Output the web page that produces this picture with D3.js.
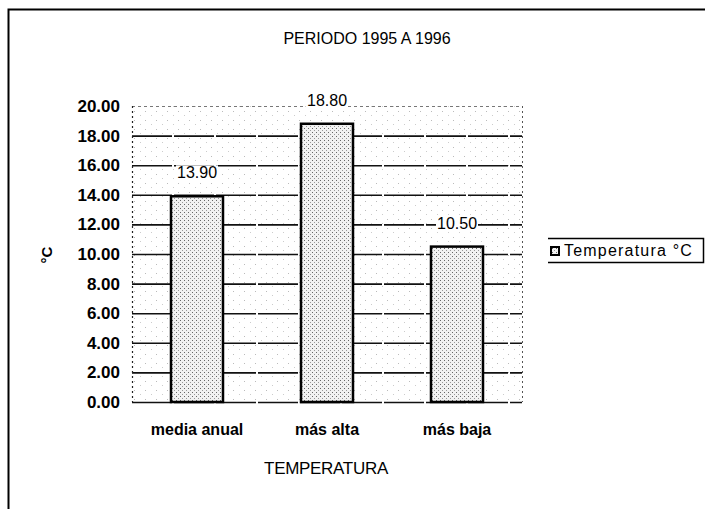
<!DOCTYPE html>
<html><head><meta charset="utf-8">
<script src="https://cdn.jsdelivr.net/npm/d3@7"></script>
<style>
body{margin:0;background:#fff;}
svg{display:block;font-family:"Liberation Sans",Arial,sans-serif;}
</style></head>
<body>
<svg id="c" width="705" height="509"></svg>
<script>
const categories = ["media anual", "más alta", "más baja"];
const values = [13.90, 18.80, 10.50];
const yTicks = [0, 2, 4, 6, 8, 10, 12, 14, 16, 18, 20];
const title = "PERIODO 1995 A 1996";
const xTitle = "TEMPERATURA";
const yTitle = "°C";
const seriesName = "Temperatura °C";

const svg = d3.select("#c");
const defs = svg.append("defs");
const pb = defs.append("pattern").attr("id","barPat").attr("width",4).attr("height",4).attr("patternUnits","userSpaceOnUse");
pb.append("rect").attr("width",4).attr("height",4).attr("fill","#f2f2f2");
pb.append("rect").attr("x",0).attr("y",0).attr("width",1).attr("height",1).attr("fill","#666");
pb.append("rect").attr("x",2).attr("y",2).attr("width",1).attr("height",1).attr("fill","#999");
const pg = defs.append("pattern").attr("id","bgPat").attr("width",11).attr("height",9).attr("patternUnits","userSpaceOnUse");
pg.append("rect").attr("width",11).attr("height",9).attr("fill","#fff");
pg.append("rect").attr("x",2).attr("y",3).attr("width",1).attr("height",1).attr("fill","#bbb");
pg.append("rect").attr("x",8).attr("y",7).attr("width",1).attr("height",1).attr("fill","#ccc");

// frame
svg.append("path").attr("d","M8.5,509 L8.5,9.5 L705,9.5").attr("fill","none").attr("stroke","#000").attr("stroke-width",2);

const x0 = 132, x1 = 522, yTop = 106, yBot = 402;
const x = d3.scaleBand().domain(categories).range([x0, x1]).paddingInner(0.6).paddingOuter(0.3);
const y = d3.scaleLinear().domain([0, 20]).range([yBot, yTop]);

svg.append("rect").attr("x",x0).attr("y",yTop).attr("width",x1-x0).attr("height",yBot-yTop).attr("fill","url(#bgPat)");

// gridlines
svg.append("g").selectAll("line").data(yTicks).join("line")
  .attr("x1",x0).attr("x2",x1)
  .attr("y1",d=>y(d)+0.5).attr("y2",d=>y(d)+0.5)
  .attr("stroke",d=> d===20 ? "#777" : "#111")
  .attr("stroke-width",d=> d===20 ? 1 : 1.6)
  .attr("stroke-dasharray",d=> d===20 ? "3,3" : "40,2");

// left axis & right edge dotted
svg.append("line").attr("x1",x0+0.5).attr("x2",x0+0.5).attr("y1",yTop).attr("y2",yBot).attr("stroke","#222").attr("stroke-dasharray","2,3").attr("stroke-width",1.2);
svg.append("line").attr("x1",x1+0.5).attr("x2",x1+0.5).attr("y1",yTop).attr("y2",yBot).attr("stroke","#555").attr("stroke-dasharray","2,3").attr("stroke-width",1);

// y axis labels
const yAxis = d3.axisLeft(y).tickValues(yTicks).tickFormat(d3.format(".2f")).tickSize(0).tickPadding(12);
const ga = svg.append("g").attr("transform",`translate(${x0},0)`).call(yAxis);
ga.select(".domain").remove();
ga.selectAll("text").attr("font-size",17).attr("font-weight","bold").attr("fill","#000").attr("font-family","'Liberation Sans',Arial,sans-serif");

// bars
svg.append("g").selectAll("rect").data(values).join("rect")
  .attr("x",(d,i)=>x(categories[i]))
  .attr("y",d=>y(d))
  .attr("width",x.bandwidth())
  .attr("height",d=>yBot-y(d))
  .attr("fill","url(#barPat)")
  .attr("stroke","#000").attr("stroke-width",2.5);

// value labels with white backing
const vl = svg.append("g").selectAll("g").data(values).join("g")
  .attr("transform",(d,i)=>`translate(${x(categories[i])+x.bandwidth()/2},${y(d)-18})`);
vl.append("rect").attr("x",-21).attr("y",-13).attr("width",42).attr("height",15).attr("fill","#fff");
vl.append("text").attr("text-anchor","middle").attr("font-size",16).attr("fill","#000")
  .text(d=>d3.format(".2f")(d));

// x axis labels
const xAxis = d3.axisBottom(x).tickSize(0).tickPadding(22);
const gx = svg.append("g").attr("transform",`translate(0,${yBot})`).call(xAxis);
gx.select(".domain").remove();
gx.selectAll("text").attr("font-size",16).attr("font-weight","bold").attr("fill","#000").attr("font-family","'Liberation Sans',Arial,sans-serif");

// titles
svg.append("text").attr("x",367).attr("y",44).attr("text-anchor","middle").attr("font-size",16).text(title);
svg.append("text").attr("x",326).attr("y",474).attr("text-anchor","middle").attr("font-size",17).attr("letter-spacing","-0.3").text(xTitle);
svg.append("text").attr("transform","translate(52,255) rotate(-90)").attr("text-anchor","middle").attr("font-size",15).attr("font-weight","bold").text(yTitle);

// legend
const lg = svg.append("g");
lg.append("path").attr("d","M548,238.5 L703.5,238.5 L703.5,262.5 L548,262.5").attr("fill","#fff").attr("stroke","#000").attr("stroke-width",1.5);
lg.append("rect").attr("x",551).attr("y",247).attr("width",8).attr("height",8).attr("fill","url(#barPat)").attr("stroke","#000").attr("stroke-width",2);
lg.append("text").attr("x",564).attr("y",256).attr("font-size",16).attr("letter-spacing","1.2").text(seriesName);
</script>
</body></html>
